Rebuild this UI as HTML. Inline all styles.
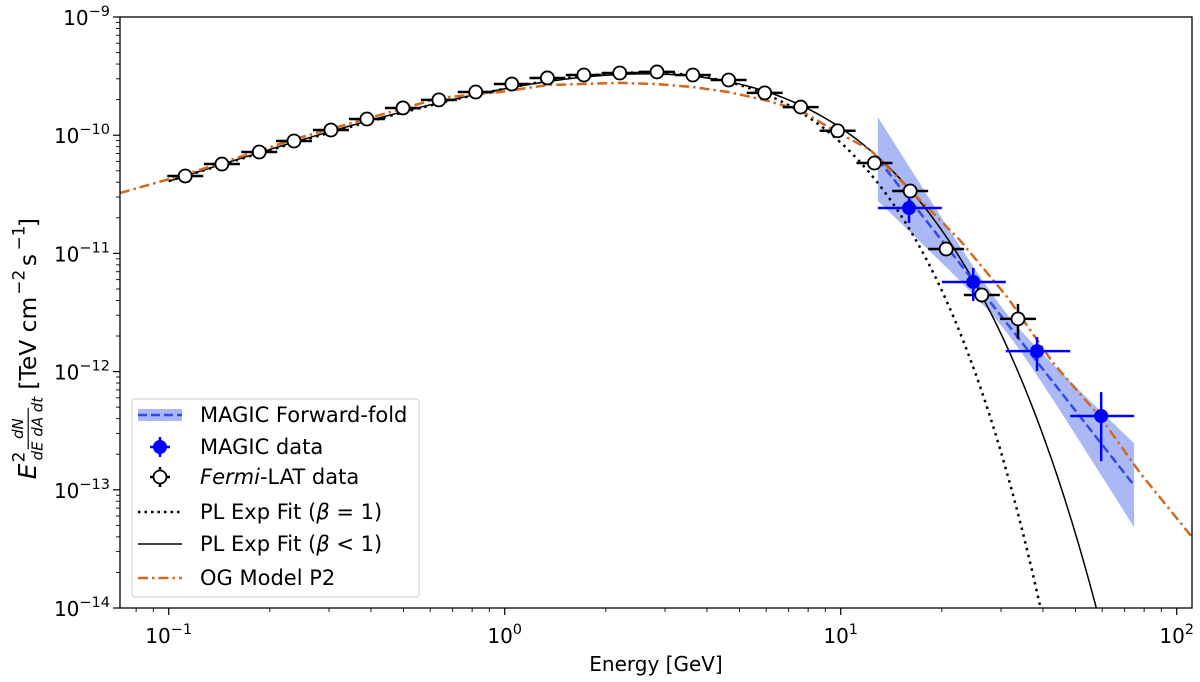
<!DOCTYPE html>
<html><head><meta charset="utf-8"><style>
html,body{margin:0;padding:0;background:#fff;overflow:hidden;width:1200px;height:682px;}
svg{display:block;font-family:"DejaVu Sans","Liberation Sans",sans-serif;}
</style></head><body>
<svg id="chart" width="1200" height="682" viewBox="0 0 1200 682" xmlns="http://www.w3.org/2000/svg">
<defs><clipPath id="plotclip"><rect x="120" y="17" width="1072" height="591"/></clipPath></defs>
<rect x="0" y="0" width="1200" height="682" fill="#fff"/>
<g id="plot" clip-path="url(#plotclip)"></g>
<rect x="120" y="17" width="1072" height="591" fill="none" stroke="#000" stroke-width="1.3"/>
<g id="ticks"></g>
<text x="656" y="671" font-size="20" text-anchor="middle">Energy [GeV]</text>
<g transform="translate(36,309) rotate(-90) scale(1.3)">
  <text x="-131" y="0" font-size="19" font-style="italic">E</text>
  <text x="-118" y="-9" font-size="13">2</text>
  <text x="-92" y="-10" font-size="11.5" font-style="italic" text-anchor="middle">dN</text>
  <line x1="-108" y1="-6" x2="-76" y2="-6" stroke="#000" stroke-width="0.9"/>
  <text x="-92" y="5" font-size="11.5" font-style="italic" text-anchor="middle">dE dA dt</text>
  <text x="-62" y="0" font-size="18">[TeV cm</text>
  <text x="11" y="-9" font-size="13">−2</text>
  <text x="33" y="0" font-size="18">s</text>
  <text x="45" y="-9" font-size="13">−1</text>
  <text x="63" y="0" font-size="18">]</text>
</g>
<g id="legend">
  <rect x="132" y="399" width="287" height="198" rx="3" fill="#fff" fill-opacity="0.85" stroke="#ccc" stroke-width="1"/>
  <g>
    <rect x="138" y="409" width="44" height="12" fill="#aab9f5"/>
    <line x1="138" y1="415" x2="182" y2="415" stroke="#3349ea" stroke-width="2.5" stroke-dasharray="9,4"/>
    <text x="200" y="422" font-size="21">MAGIC Forward-fold</text>
  </g>
  <g>
    <line x1="160" y1="437" x2="160" y2="457" stroke="#0000ff" stroke-width="2.5"/>
    <line x1="150" y1="447" x2="170" y2="447" stroke="#0000ff" stroke-width="2.5"/>
    <circle cx="160" cy="447" r="7" fill="#0000ff"/>
    <text x="200" y="454" font-size="21">MAGIC data</text>
  </g>
  <g>
    <line x1="160" y1="467" x2="160" y2="487" stroke="#000" stroke-width="2.5"/>
    <line x1="150" y1="477" x2="170" y2="477" stroke="#000" stroke-width="2.5"/>
    <circle cx="160" cy="477" r="6.5" fill="#fff" stroke="#000" stroke-width="1.8"/>
    <text x="200" y="484" font-size="21"><tspan font-style="italic">Fermi</tspan>-LAT data</text>
  </g>
  <g>
    <line x1="138" y1="512" x2="182" y2="512" stroke="#000" stroke-width="2.5" stroke-dasharray="2.5,4"/>
    <text x="200" y="519" font-size="21">PL Exp Fit (<tspan font-style="italic">β</tspan> = 1)</text>
  </g>
  <g>
    <line x1="138" y1="544" x2="182" y2="544" stroke="#000" stroke-width="1.5"/>
    <text x="200" y="551" font-size="21">PL Exp Fit (<tspan font-style="italic">β</tspan> &lt; 1)</text>
  </g>
  <g>
    <line x1="138" y1="578" x2="182" y2="578" stroke="#d2691e" stroke-width="2.5" stroke-dasharray="10,4,2.5,4"/>
    <text x="200" y="585" font-size="21">OG Model P2</text>
  </g>
</g>
</svg>
<script>
// ---- data ----
const fermiE = [0.112,0.144,0.186,0.236,0.304,0.389,0.498,0.637,0.82,1.05,1.34,1.72,2.20,2.84,3.63,4.64,5.94,7.60,9.79,12.6,16.1,20.6,26.3,33.7];
const fermiF = [4.52e-11,5.70e-11,7.21e-11,8.93e-11,1.107e-10,1.371e-10,1.70e-10,1.99e-10,2.32e-10,2.71e-10,3.05e-10,3.23e-10,3.36e-10,3.43e-10,3.23e-10,2.93e-10,2.28e-10,1.73e-10,1.09e-10,5.82e-11,3.37e-11,1.09e-11,4.45e-12,2.79e-12];
const fermiErrUp = [0.04,0.04,0.04,0.04,0.04,0.04,0.04,0.04,0.04,0.04,0.04,0.04,0.04,0.04,0.04,0.04,0.04,0.04,0.05,0.06,0.08,0.10,0.14,0.34];
const fermiErrDn = [0.04,0.04,0.04,0.04,0.04,0.04,0.04,0.04,0.04,0.04,0.04,0.04,0.04,0.04,0.04,0.04,0.04,0.04,0.05,0.06,0.08,0.10,0.14,0.32];
const fermiHalfBinDex = 0.0535;

const magicE = [15.97,24.8,38.4,59.6];
const magicF = [2.42e-11,5.73e-12,1.49e-12,4.21e-13];
const magicElo = [12.9,20.0,31.0,48.2];
const magicEhi = [20.0,31.0,48.2,74.7];
const magicFlo = [1.81e-11,3.96e-12,1.01e-12,1.75e-13];
const magicFhi = [3.0e-11,7.53e-12,1.96e-12,6.71e-13];

// forward-folded power law (E^2 dN/dE) with error band
const ffRange = [12.9, 74.7];
const ffPivot = 31.0;
const ffNorm = 2.63e-12;
const ffSlope = -3.62;
const ffErrA = 0.08, ffErrB = 0.907;

// PL exp cutoff fits: F = N E^s exp(-(E/Ec)^beta)
const fit1 = {N:3.52e-10, s:0.92, Ec:2.84, beta:1.0};
const fit2 = {N:4.39e-10, s:0.993, Ec:2.0, beta:0.8};
const fitEmin = 0.1;

// OG model P2
const ogE = [0.0716,0.1135,0.238,0.643,0.968,1.346,2.203,2.825,3.614,4.624,5.916,7.568,9.75,12.25,16.1,22.6,31.3,42.9,59.2,77.8,111];
const ogF = [3.24e-11,4.70e-11,9.29e-11,2.07e-10,2.32e-10,2.66e-10,2.77e-10,2.71e-10,2.56e-10,2.32e-10,1.99e-10,1.63e-10,1.06e-10,7.50e-11,3.44e-11,1.30e-11,4.28e-12,1.18e-12,4.13e-13,1.39e-13,3.99e-14];

const xTickExp = [-1,0,1,2];
const yTickExp = [-9,-10,-11,-12,-13,-14];

// ---- scales ----
const NS = 'http://www.w3.org/2000/svg';
function X(E){ return 168.7 + 336*(Math.log10(E)+1); }
function Y(F){ return 17 + 118.2*(-9 - Math.log10(F)); }
function mk(tag, attrs, parent){
  const el = document.createElementNS(NS, tag);
  for (const k in attrs) el.setAttribute(k, attrs[k]);
  parent.appendChild(el);
  return el;
}
const plot = document.getElementById('plot');
const ticks = document.getElementById('ticks');

// ---- ticks ----
for (let d=-2; d<=2; d++){
  for (let m=1; m<10; m++){
    const E = m*Math.pow(10,d);
    const x = X(E);
    if (x<120 || x>1192) continue;
    const t = mk('line',{x1:x,x2:x,y1:608,y2:608+(m===1?7:4),stroke:'#000','stroke-width':m===1?1.2:0.9},ticks);
    
    
  }
}
xTickExp.forEach(e=>{
  const x = X(Math.pow(10,e));
  const t = mk('text',{x:x,y:643,'font-size':20,'text-anchor':'middle'},ticks);
  
  
  t.innerHTML = '10<tspan dy="-9" font-size="14.5">'+(e<0?'−'+(-e):e)+'</tspan>';
});
for (let d=-14; d<-9; d++){
  for (let m=1; m<10; m++){
    const y = Y(m*Math.pow(10,d));
    const t = mk('line',{x1:120,x2:120-(m===1?7:4),y1:y,y2:y,stroke:'#000','stroke-width':m===1?1.2:0.9},ticks);
    
    
  }
}
mk('line',{x1:120,x2:113,y1:Y(1e-9),y2:Y(1e-9),stroke:'#000','stroke-width':1.2},ticks);
yTickExp.forEach(e=>{
  const y = Y(Math.pow(10,e));
  const t = mk('text',{x:110,y:y+8,'font-size':20,'text-anchor':'end'},ticks);
  
  
  t.innerHTML = '10<tspan dy="-9" font-size="14.5">−'+(-e)+'</tspan>';
});

// ---- forward fold band + line ----
function ffVal(E){ return Math.log10(ffNorm) + ffSlope*(Math.log10(E)-Math.log10(ffPivot)); }
function ffSig(E){ const d=Math.log10(E)-Math.log10(ffPivot); return Math.sqrt(ffErrA*ffErrA+ffErrB*ffErrB*d*d); }
{
  const up=[], dn=[], ln=[];
  const l0=Math.log10(ffRange[0]), l1=Math.log10(ffRange[1]);
  for (let i=0;i<=60;i++){
    const E=Math.pow(10,l0+(l1-l0)*i/60);
    const v=ffVal(E), s=ffSig(E);
    up.push(X(E).toFixed(2)+','+Y(Math.pow(10,v+s)).toFixed(2));
    dn.push(X(E).toFixed(2)+','+Y(Math.pow(10,v-s)).toFixed(2));
    ln.push(X(E).toFixed(2)+','+Y(Math.pow(10,v)).toFixed(2));
  }
  const band = mk('polygon',{points:up.concat(dn.reverse()).join(' '),fill:'#aab9f5'},plot);
  
  
  window._ffLine = ln;
}

// ---- fit curves ----
function fitCurve(p, name, attrs){
  const pts=[];
  for (let i=0;i<=500;i++){
    const lE = Math.log10(fitEmin) + (2.1-Math.log10(fitEmin))*i/500;
    const E = Math.pow(10,lE);
    const F = p.N*Math.pow(E,p.s)*Math.exp(-Math.pow(E/p.Ec,p.beta));
    if (F < 1e-15) { pts.push(X(E).toFixed(2)+','+Y(1e-15).toFixed(2)); break; }
    pts.push(X(E).toFixed(2)+','+Y(F).toFixed(2));
  }
  const a = Object.assign({points:pts.join(' '),fill:'none'},attrs);
  const el = mk('polyline',a,plot);
  
  
}
fitCurve(fit1,'pl-exp-fit-beta1',{stroke:'#000','stroke-width':2.5,'stroke-dasharray':'2.5,4.5'});
fitCurve(fit2,'pl-exp-fit-beta-lt1',{stroke:'#000','stroke-width':1.5});

// ---- OG model ----
{
  const pts = ogE.map((E,i)=>X(E).toFixed(2)+','+Y(ogF[i]).toFixed(2));
  const og = mk('polyline',{points:pts.join(' '),fill:'none',stroke:'#d2691e','stroke-width':2.5,'stroke-dasharray':'10,4,2.5,4'},plot);
  
  
}

// ---- forward fold line ----
{
  const ff = mk('polyline',{points:window._ffLine.join(' '),fill:'none',stroke:'#3349ea','stroke-width':2.5,'stroke-dasharray':'9,4'},plot);
  
  
}

// ---- Fermi points ----
fermiE.forEach((E,i)=>{
  const g = mk('g',{},plot);
  
  
  const x=X(E), y=Y(fermiF[i]);
  mk('line',{x1:X(E*Math.pow(10,-fermiHalfBinDex)),x2:X(E*Math.pow(10,fermiHalfBinDex)),y1:y,y2:y,stroke:'#000','stroke-width':2.5},g);
  mk('line',{x1:x,x2:x,y1:Y(fermiF[i]*(1+fermiErrUp[i])),y2:Y(fermiF[i]*(1-fermiErrDn[i])),stroke:'#000','stroke-width':2.5},g);
  mk('circle',{cx:x,cy:y,r:6.5,fill:'#fff',stroke:'#000','stroke-width':1.8},g);
});

// ---- MAGIC points ----
magicE.forEach((E,i)=>{
  const g = mk('g',{},plot);
  
  
  const x=X(E), y=Y(magicF[i]);
  mk('line',{x1:X(magicElo[i]),x2:X(magicEhi[i]),y1:y,y2:y,stroke:'#0000ff','stroke-width':2.5},g);
  mk('line',{x1:x,x2:x,y1:Y(magicFhi[i]),y2:Y(magicFlo[i]),stroke:'#0000ff','stroke-width':2.5},g);
  mk('circle',{cx:x,cy:y,r:7,fill:'#0000ff'},g);
});
</script>
</body></html>
